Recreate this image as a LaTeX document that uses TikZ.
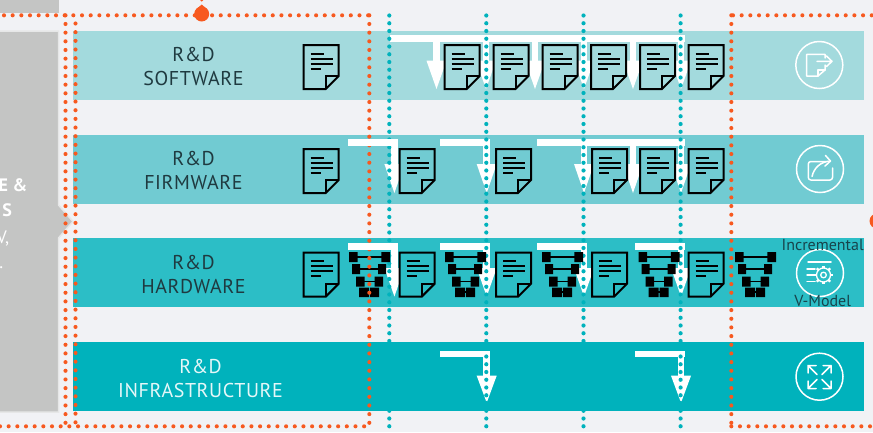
\documentclass[tikz,border=0pt]{standalone}
\usepackage{fontspec}
\setmainfont{PT Sans}
\newfontfamily\widefont[LetterSpace=3]{PT Sans}
\definecolor{bgc}{HTML}{F1F2F5}
\definecolor{grayc}{HTML}{C4C5C4}
\definecolor{edgec}{HTML}{E6E7E7}
\definecolor{bandA}{HTML}{A3DADD}
\definecolor{bandB}{HTML}{71CBD2}
\definecolor{bandC}{HTML}{2CBEC6}
\definecolor{bandD}{HTML}{00B2BC}
\definecolor{orangec}{HTML}{F7591F}
\definecolor{inkc}{HTML}{1F3A40}
\definecolor{labelc}{HTML}{17444C}
\tikzset{
  orangedots/.style={line cap=round,line width=4.1pt,draw=orangec,dash pattern=on 0pt off 8.67pt},
  tealdots/.style={line cap=round,line width=4.2pt,draw=bandD,dash pattern=on 0pt off 7.75pt},
  bandlabel/.style={font=\widefont\fontsize{20}{24}\selectfont,align=center,text=inkc,inner sep=0pt},
  sidelabel/.style={font=\fontsize{16}{18}\selectfont,text=labelc,inner sep=0pt},
  whiteicon/.style={draw=white,line width=1.5pt,line join=round,line cap=round},
  docline/.style={draw=black,line width=2pt,line join=miter},
  arrowfill/.style={fill=white,draw=none},
}
% document icon: left x, top y, band colour
\newcommand{\docicon}[3]{%
  \begin{scope}[shift={(#1,#2)}]
    \fill[#3] (0,0) -- (35,0) -- (35,31) -- (22,44) -- (0,44) -- cycle;
    \draw[docline] (0,0) -- (35,0) -- (35,31) -- (22,44) -- (0,44) -- cycle;
    \draw[docline] (22,44) -- (22,31) -- (35,31);
    \draw[docline] (7,8.5) -- (20,8.5) (7,13.5) -- (29,13.5) (7,18.5) -- (29,18.5) (7,23.5) -- (17,23.5);
  \end{scope}}
% V-model icon: left x, top y
\newcommand{\vicon}[2]{%
  \begin{scope}[shift={(#1,#2)}]
    \fill (0,0) rectangle (8.6,10) (32.4,0) rectangle (41,10);
    \fill (3,12) rectangle (11,22) (29,12) rectangle (37,22);
    \fill (7,24.5) rectangle (15.5,34.5) (25.5,24.5) rectangle (34,34.5);
    \fill (10,35.5) rectangle (20,45) (21,35.5) rectangle (30,45);
    \draw[line width=1.2pt] (5,5) -- (36,5) (7,17) -- (33,17) (11,29.5) -- (30,29.5) (15,40) -- (25,40);
  \end{scope}}
% white stem and head: tip x, bar top y, head top y, tip y
\newcommand{\whitearrow}[4]{%
  \fill[arrowfill] (#1-3.3,#2) rectangle (#1+3.3,#3+1);
  \fill[arrowfill] (#1-10,#3) -- (#1+10,#3) -- (#1,#4) -- cycle;}
\begin{document}
\begin{tikzpicture}[x=1pt,y=-1pt]
\useasboundingbox (0,0) rectangle (873,432);
\clip (0,0) rectangle (873,432);
\fill[bgc] (0,0) rectangle (873,432);
% grey panels
\fill[grayc] (0,0) rectangle (59,13);
\fill[grayc,draw=edgec,line width=1.5pt] (-3,31) -- (58.5,31) -- (58.5,205) -- (73,221.5) -- (58.5,238) -- (58.5,412) -- (-3,412) -- cycle;
% bands
\fill[bandA] (73,31) rectangle (864,99.7);
\fill[bandB] (73,135) rectangle (864,203.7);
\fill[bandC] (73,238) rectangle (864,306.7);
\fill[bandD] (73,342) rectangle (864,410.7);
% grey panel text
\node[anchor=base east,inner sep=0pt,text=white,font=\fontsize{18}{20}\selectfont\bfseries] (tA) at (27.5,191.5) {E \&};
\node[anchor=base east,inner sep=0pt,text=white,font=\fontsize{18}{20}\selectfont\bfseries] (tB) at (12,216.5) {S};
\node[anchor=base east,inner sep=0pt,text=white,font=\fontsize{18}{20}\selectfont] (tC) at (9.5,243) {V,};
\node[anchor=base east,inner sep=0pt,text=white,font=\fontsize{18}{20}\selectfont] (tD) at (3.5,268) {.};
% band labels
\node[bandlabel] (lA) at (193.5,66.5) {R\&D\\SOFTWARE};
\node[bandlabel] (lB) at (193.5,170.5) {R\&D\\FIRMWARE};
\node[bandlabel] (lC) at (193.5,274.5) {R\&D\\HARDWARE};
\node[bandlabel,text=white!90!bandD] (lD) at (200.5,378.5) {R\&D\\INFRASTRUCTURE};
% white arrows row 1
\fill[arrowfill] (390,35.3) rectangle (685,42);
\foreach \t in {436.5,486,535,584,633,681} {\whitearrow{\t}{35.3}{60.7}{89}}
% row 2
\fill[arrowfill] (348,139.3) rectangle (397.7,146);
\whitearrow{394.4}{139.3}{164}{193}
\fill[arrowfill] (440,139.3) rectangle (490,146);
\whitearrow{486.7}{139.3}{164}{193}
\fill[arrowfill] (537.3,139.3) rectangle (684.5,146);
\foreach \t in {584,633,681} {\whitearrow{\t}{139.3}{164}{193}}
% row 3
\fill[arrowfill] (348,243.3) rectangle (397.7,249.5);
\fill[arrowfill] (440,243.3) rectangle (490,249.5);
\fill[arrowfill] (537.3,243.3) rectangle (587,249.5);
\fill[arrowfill] (635,243.3) rectangle (684.5,249.5);
\foreach \t in {394.4,486.7,584,681} {\whitearrow{\t}{243.3}{268}{296.5}}
% row 4
\fill[arrowfill] (440,350.7) rectangle (490,357);
\whitearrow{486.7}{350.7}{375.7}{402.7}
\fill[arrowfill] (635,350.7) rectangle (684.5,357);
\whitearrow{681}{350.7}{375.7}{402.7}
% teal dotted lines
\foreach \x in {389.3,486.3,583.5,680.6} {\draw[tealdots] (\x,15.5) -- (\x,434);}
% documents
\foreach \x in {303.7,444.7,493.5,542.5,591,640,688.5} {\docicon{\x}{45}{bandA}}
\foreach \x in {303.7,399.7,496,592,640,688.5} {\docicon{\x}{149}{bandB}}
\foreach \x in {303.7,399.7,496,592,688.5} {\docicon{\x}{252.7}{bandC}}
% V-model icons
\foreach \x in {349,445,542,638.5,735} {\vicon{\x}{252}}
% orange dotted frames
\draw[orangedots] (4,15.3) -- (370,15.3);
\draw[orangedots] (65.5,15.3) -- (65.5,430);
\draw[orangedots] (75.5,23.5) -- (75.5,430);
\draw[orangedots] (369.3,15.3) -- (369.3,427);
\draw[orangedots] (0,426.3) -- (369.3,426.3);
\draw[orangedots] (733,15.3) -- (875,15.3);
\draw[orangedots] (731.3,15.3) -- (731.3,427);
\draw[orangedots] (731.3,426.3) -- (875,426.3);
\fill[orangec] (201.7,14) circle (7.5);
\fill[orangec] (201.7,4.5) -- (196.5,9) -- (206.9,9) -- cycle;
\fill[orangec] (201.7,0) circle (1.6);
\fill[orangec] (877,221) circle (7.5);
% bars above the orange dots
\fill[arrowfill] (348,139.3) rectangle (397.7,146);
\fill[arrowfill] (348,243.3) rectangle (397.7,249.5);
% round icons
\draw[whiteicon] (819.3,65) circle (23.5);
\draw[whiteicon] (820,169) circle (23.5);
\draw[whiteicon] (820,273) circle (23.5);
\draw[whiteicon] (819.5,376.7) circle (23.5);
% icon 1
\draw[whiteicon] (825,58) -- (825,54.3) -- (806.7,54.3) -- (806.7,76) -- (818,76) -- (825,70) -- (825,65);
\draw[whiteicon] (818,76) -- (818,70) -- (825,70);
\draw[whiteicon] (817,61.3) -- (832,61.3) (826.5,56) -- (832,61.3) -- (826.5,66.5);
% icon 2
\draw[whiteicon,rounded corners=2.5pt] (826,161.5) -- (808.3,161.5) -- (808.3,180) -- (832.5,180) -- (832.5,168);
\draw[whiteicon] (812,176.5) .. controls (814,168) and (820,162) .. (830,161);
\draw[whiteicon] (825.5,155.5) -- (830.5,161) -- (825,166);
% icon 3
\draw[whiteicon] (808,262) -- (831,262) (807,269) -- (815,269) (807,275) -- (814,275) (807,281.5) -- (815,281.5);
\draw[whiteicon,line width=1.3pt] (823.5,275) circle (7);
\foreach \a in {0,45,...,315} {\draw[whiteicon,line width=2.2pt,line cap=butt] (823.5,275) ++(\a:6.8) -- ++(\a:2.6);}
\draw[whiteicon,line width=1.3pt] (823.5,275) circle (2.8);
% icon 4
\draw[whiteicon] (808,365.5) -- (817,374.5) (808,373) -- (808,365.5) -- (816,365.5);
\draw[whiteicon] (831,365.5) -- (822,374.5) (831,373) -- (831,365.5) -- (823,365.5);
\draw[whiteicon] (808,388.5) -- (817,379.5) (808,381) -- (808,388.5) -- (816,388.5);
\draw[whiteicon] (831,388.5) -- (822,379.5) (831,381) -- (831,388.5) -- (823,388.5);
% side labels
\node[sidelabel,anchor=base] (sA) at (822.7,250) {Incremental};
\node[sidelabel,anchor=base] (sB) at (822.7,306) {V-Model};
\end{tikzpicture}
\end{document}
